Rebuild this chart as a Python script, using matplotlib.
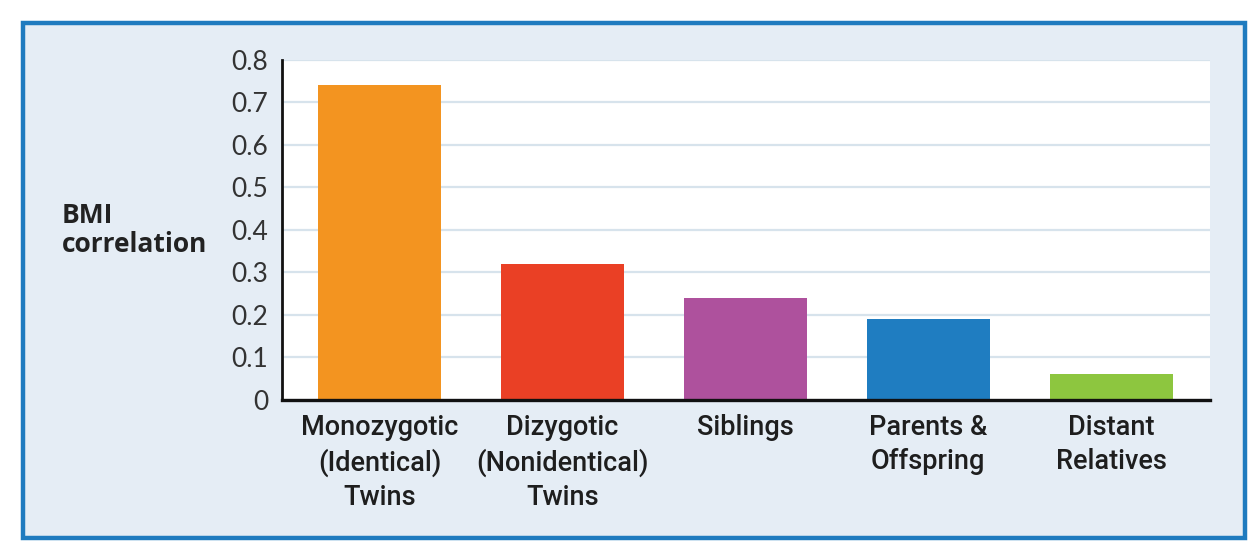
"""
BMI correlation by relationship type (bar chart in a framed panel)
"""

import matplotlib.pyplot as plt
from matplotlib.patches import Rectangle

# Data
categories = [
    'Monozygotic\n(Identical)\nTwins',
    'Dizygotic\n(Nonidentical)\nTwins',
    'Siblings',
    'Parents &\nOffspring',
    'Distant\nRelatives',
]
bmi_corr = [0.74, 0.32, 0.24, 0.19, 0.06]
bar_colors = ['#f39420', '#ea4025', '#ae519d', '#1f7dc1', '#8dc63f']
yticks = [0, 0.1, 0.2, 0.3, 0.4, 0.5, 0.6, 0.7, 0.8]
ytick_labels = ['0', '0.1', '0.2', '0.3', '0.4', '0.5', '0.6', '0.7', '0.8']

W, H = 1260, 558
fig = plt.figure(figsize=(W / 100, H / 100), dpi=100)
fig.patch.set_facecolor('white')

# Framed light-blue panel behind the chart
panel = Rectangle((23 / W, 1 - 538 / H), (1245 - 23) / W, (538 - 23) / H,
                  transform=fig.transFigure, facecolor='#e5edf5',
                  edgecolor='#1f7bbf', linewidth=3.2, zorder=-1)
fig.add_artist(panel)

ax = fig.add_axes([282 / W, 1 - 400 / H, (1210 - 282) / W, (400 - 59.5) / H])
ax.set_zorder(1)
ax.set_facecolor('white')

x = range(len(categories))
ax.bar(x, bmi_corr, width=0.672, color=bar_colors, zorder=3)

ax.set_xlim(-0.533, 4.54)
ax.set_ylim(0, 0.8)
ax.set_yticks(yticks)
ax.set_yticklabels(ytick_labels, family=['Lato', 'DejaVu Sans'],
                   fontweight='normal', color='#333333')
ax.set_xticks(list(x))
ax.set_xticklabels(categories, family=['Roboto', 'DejaVu Sans'],
                   fontweight='medium', color='#1e1e1e', linespacing=1.33)

ax.tick_params(axis='y', length=0, pad=10, labelsize=19)
ax.tick_params(axis='x', length=0, pad=10, labelsize=19.5)

# Light gridlines behind the bars
ax.set_axisbelow(True)
ax.grid(True, axis='y', color='#d7e3ec', linewidth=1.6)

for side in ('top', 'right'):
    ax.spines[side].set_visible(False)
ax.spines['left'].set_linewidth(2.0)
ax.spines['bottom'].set_linewidth(2.4)
ax.spines['left'].set_color('#111111')
ax.spines['bottom'].set_color('#111111')
ax.spines['left'].set_zorder(5)
ax.spines['bottom'].set_zorder(5)

fig.text(62 / W, 1 - 230 / H, 'BMI\ncorrelation', ha='left', va='center',
         fontsize=19, fontweight='bold', family=['Open Sans', 'DejaVu Sans'],
         color='#222222', linespacing=1.1)

fig.savefig('out.png', dpi=100, facecolor=fig.get_facecolor())
plt.close(fig)
